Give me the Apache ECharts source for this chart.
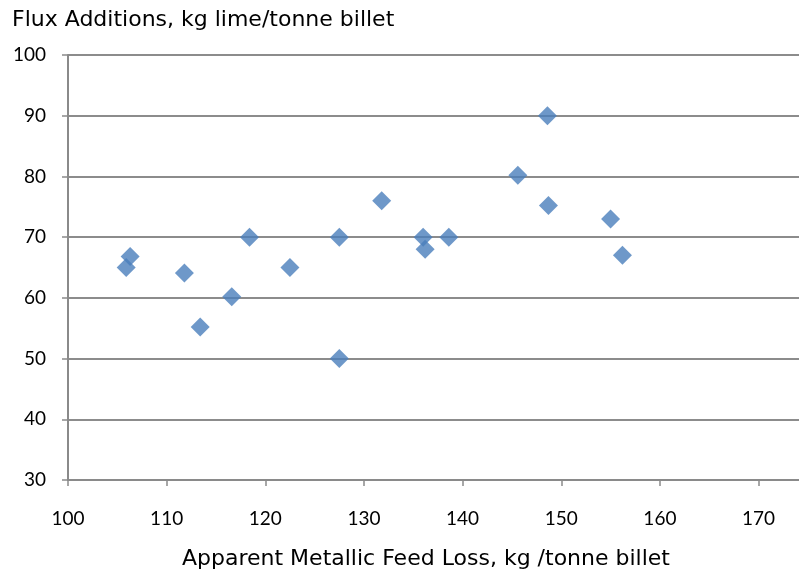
<!DOCTYPE html>
<html>
<head>
<meta charset="utf-8">
<script src="https://cdn.jsdelivr.net/npm/echarts@6/dist/echarts.min.js"></script>
<style>html,body{margin:0;padding:0;background:#fff}#c{width:799px;height:578px}</style>
</head>
<body>
<div id="c"></div>
<script>
const xValues = [105.9, 106.3, 111.8, 113.4, 116.6, 118.4, 122.5, 127.5, 127.5, 131.8, 136.0, 136.2, 138.6, 145.6, 148.6, 148.7, 155.0, 156.2];
const yValues = [65.0, 66.8, 64.1, 55.2, 60.2, 70.0, 65.0, 70.0, 50.0, 76.0, 70.0, 68.0, 70.0, 80.2, 90.0, 75.2, 73.0, 67.0];
const xTicks = [100, 110, 120, 130, 140, 150, 160, 170];
const yTitle = 'Flux Additions, kg lime/tonne billet';
const xTitle = 'Apparent Metallic Feed Loss, kg /tonne billet';
const FONT = 'Lato, "Open Sans", sans-serif';
const TFONT = '"DejaVu Sans", "Open Sans", sans-serif';

const points = xValues.map((x, i) => [x, yValues[i]]);
const chart = echarts.init(document.getElementById('c'), null, {renderer: 'canvas'});
chart.setOption({
  animation: false,
  backgroundColor: '#ffffff',
  grid: {left: 68, top: 55, bottom: 98, right: 0, containLabel: false},
  xAxis: {
    type: 'value', min: 100, max: 174.1, interval: 10,
    axisLine: {show: true, lineStyle: {color: '#8a8a8a', width: 2}},
    axisTick: {show: true, length: 6, customValues: xTicks, lineStyle: {color: '#8a8a8a', width: 1.5}},
    axisLabel: {color: '#000', fontFamily: FONT, fontSize: 19, margin: 29, customValues: xTicks},
    splitLine: {show: false}
  },
  yAxis: {
    type: 'value', min: 30, max: 100, interval: 10,
    axisLine: {show: true, lineStyle: {color: '#8a8a8a', width: 2}},
    axisTick: {show: true, length: 6, lineStyle: {color: '#8a8a8a', width: 1.5}},
    axisLabel: {color: '#000', fontFamily: FONT, fontSize: 19, margin: 22},
    splitLine: {show: true, lineStyle: {color: '#8c8c8c', width: 2}}
  },
  graphic: [
    {type: 'text', left: 12, top: 9, style: {text: yTitle, fill: '#000', font: '22px ' + TFONT}},
    {type: 'text', left: 182, top: 548, style: {text: xTitle, fill: '#000', font: '22px ' + TFONT}}
  ],
  series: [{
    type: 'scatter', data: points, symbol: 'diamond', symbolSize: 19,
    itemStyle: {color: '#4a7ebb'}
  }]
});
</script>
</body>
</html>
